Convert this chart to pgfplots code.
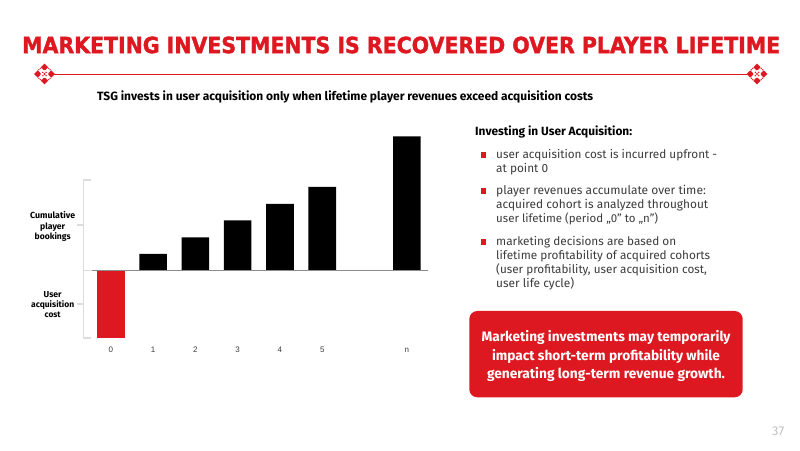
\documentclass[border=0pt]{standalone}
\usepackage{pgfplots}
\pgfplotsset{compat=1.18}
\usepackage{fontspec}
\setmainfont{Fira Sans}
\newfontfamily\lib{Liberation Sans}
\newfontfamily\ttl[BoldFeatures={FakeBold=1.6}]{DejaVu Sans}
\definecolor{tsgred}{HTML}{DD1820}
\definecolor{txt}{HTML}{3C3C3C}
\definecolor{brk}{HTML}{DDDDDD}
% Y flips pixel rows of the reference into picture coordinates (1px = 1pt)
\newcommand{\Y}[1]{\fpeval{450-#1}pt}
% one line of text: anchor, x, y(center), width, style, text
\newcommand{\tl}[6]{\node[anchor=#1,inner sep=0pt,text=#5,yshift=-1.5pt] at (#2pt,\Y{#3}) {\resizebox{#4pt}{!}{\strut #6}};}
\newcommand{\orn}[1]{%
  \begin{scope}[shift={(#1pt,\Y{74})}]
    \foreach \a in {0,90,180,270}{
      \fill[tsgred,rotate=\a] (10.3,0) -- (6.7,3.6) -- (3.8,0.7) -- (3.8,-0.7) -- (6.7,-3.6) -- cycle;
      \fill[tsgred,rotate=\a] (5.6,4.2) circle (0.75pt);
      \fill[tsgred,rotate=\a] (4.2,5.6) circle (0.75pt);
      \fill[tsgred,rotate=\a] (1.6,1.6) circle (0.8pt);
    }
    \fill[tsgred] (0,1.1) -- (1.1,0) -- (0,-1.1) -- (-1.1,0) -- cycle;
  \end{scope}}
\begin{document}
\begin{tikzpicture}[x=1pt,y=1pt]
\useasboundingbox (0,0) rectangle (800pt,450pt);
\fill[white] (0,0) rectangle (800pt,450pt);
% title
\node[anchor=west,inner sep=0pt,text=tsgred] at (22pt,\Y{45}) {\resizebox{758pt}{16.5pt}{\ttl\bfseries MARKETING INVESTMENTS IS RECOVERED OVER PLAYER LIFETIME}};
\draw[tsgred,line width=0.9pt] (54pt,\Y{74}) -- (747pt,\Y{74});
\orn{44.5}
\orn{757}
\tl{west}{97}{96}{496}{black}{\fontsize{13}{15}\selectfont\bfseries TSG invests in user acquisition only when lifetime player revenues exceed acquisition costs}
% left labels
\tl{center}{52.7}{214.7}{45}{black}{\fontsize{8}{9}\selectfont\bfseries Cumulative}
\tl{center}{52.7}{225}{25}{black}{\fontsize{8}{9}\selectfont\bfseries player}
\tl{center}{52.7}{235}{36}{black}{\fontsize{8}{9}\selectfont\bfseries bookings}
\tl{center}{52.7}{293}{18}{black}{\fontsize{8}{9}\selectfont\bfseries User}
\tl{center}{52.7}{303.5}{43}{black}{\fontsize{8}{9}\selectfont\bfseries acquisition}
\tl{center}{52.7}{313.5}{16}{black}{\fontsize{8}{9}\selectfont\bfseries cost}
% bracket
\draw[brk,line width=1.2pt,line join=round] (90.5pt,\Y{180}) -- (83.7pt,\Y{180}) -- (83.7pt,\Y{338}) -- (90.5pt,\Y{338});
\draw[brk,line width=1.2pt] (77pt,\Y{225}) -- (83.7pt,\Y{225});
\draw[brk,line width=1.2pt] (77pt,\Y{304}) -- (83.7pt,\Y{304});
\draw[brk,line width=1.2pt] (83.7pt,\Y{270.5}) -- (92pt,\Y{270.5});
% chart
\begin{axis}[
  at={(92pt,\Y{342})},anchor=south west,
  scale only axis,width=336pt,height=210pt,
  xmin=-0.444,xmax=7.5,ymin=-71.5,ymax=138.5,
  axis line style={draw=none},
  ytick=\empty,
  xtick={0,1,2,3,4,5,7},
  xticklabels={0,1,2,3,4,5,n},
  major tick length=0pt,
  xtick pos=bottom,
  xticklabel style={font=\lib\fontsize{8}{9}\selectfont,text=txt,text height=6pt,text depth=0pt,yshift=-0.5pt},
  /pgf/number format/assume math mode=true,
  clip=false,
]
\addplot[ybar,bar width=27.6pt,bar shift=0pt,fill=black,draw=none] coordinates {(1,16.5)(2,33)(3,50)(4,66.5)(5,83.5)(7,134)};
\addplot[ybar,bar width=27.6pt,bar shift=0pt,fill=tsgred,draw=none] coordinates {(0,-67.5)};
\addplot[line width=1.2pt,color=black!45] coordinates {(-0.444,0)(7.5,0)};
\end{axis}
% right text
\tl{west}{475}{131}{157}{black}{\fontsize{12}{14}\selectfont\bfseries Investing in User Acquisition:}
\foreach \yy in {155,191,242}{\fill[tsgred] (481pt,\Y{\yy-2.6}) rectangle (486.2pt,\Y{\yy+2.6});}
\tl{west}{496}{154}{221}{txt}{\fontsize{12}{14}\selectfont user acquisition cost is incurred upfront -}
\tl{west}{496}{168}{52}{txt}{\fontsize{12}{14}\selectfont at point 0}
\tl{west}{496}{190}{209.7}{txt}{\fontsize{12}{14}\selectfont player revenues accumulate over time:}
\tl{west}{496}{204}{212}{txt}{\fontsize{12}{14}\selectfont acquired cohort is analyzed throughout}
\tl{west}{496}{218}{162}{txt}{\fontsize{12}{14}\selectfont user lifetime (period „0” to „n”)}
\tl{west}{496}{241}{180}{txt}{\fontsize{12}{14}\selectfont marketing decisions are based on}
\tl{west}{496}{255}{214}{txt}{\fontsize{12}{14}\selectfont lifetime profitability of acquired cohorts}
\tl{west}{496}{269}{210.7}{txt}{\fontsize{12}{14}\selectfont (user profitability, user acquisition cost,}
\tl{west}{496}{283}{78}{txt}{\fontsize{12}{14}\selectfont user life cycle)}
% box
\fill[tsgred,rounded corners=8pt] (469.3pt,\Y{311}) rectangle (742.7pt,\Y{397.3});
\tl{center}{606}{336.5}{249}{white}{\fontsize{13}{15}\selectfont\bfseries Marketing investments may temporarily}
\tl{center}{606}{355}{228}{white}{\fontsize{13}{15}\selectfont\bfseries impact short-term profitability while}
\tl{center}{606}{373.5}{238}{white}{\fontsize{13}{15}\selectfont\bfseries generating long-term revenue growth.}
\tl{west}{772}{431}{12}{brk!70!gray}{\fontsize{10}{12}\selectfont 37}
\end{tikzpicture}
\end{document}
